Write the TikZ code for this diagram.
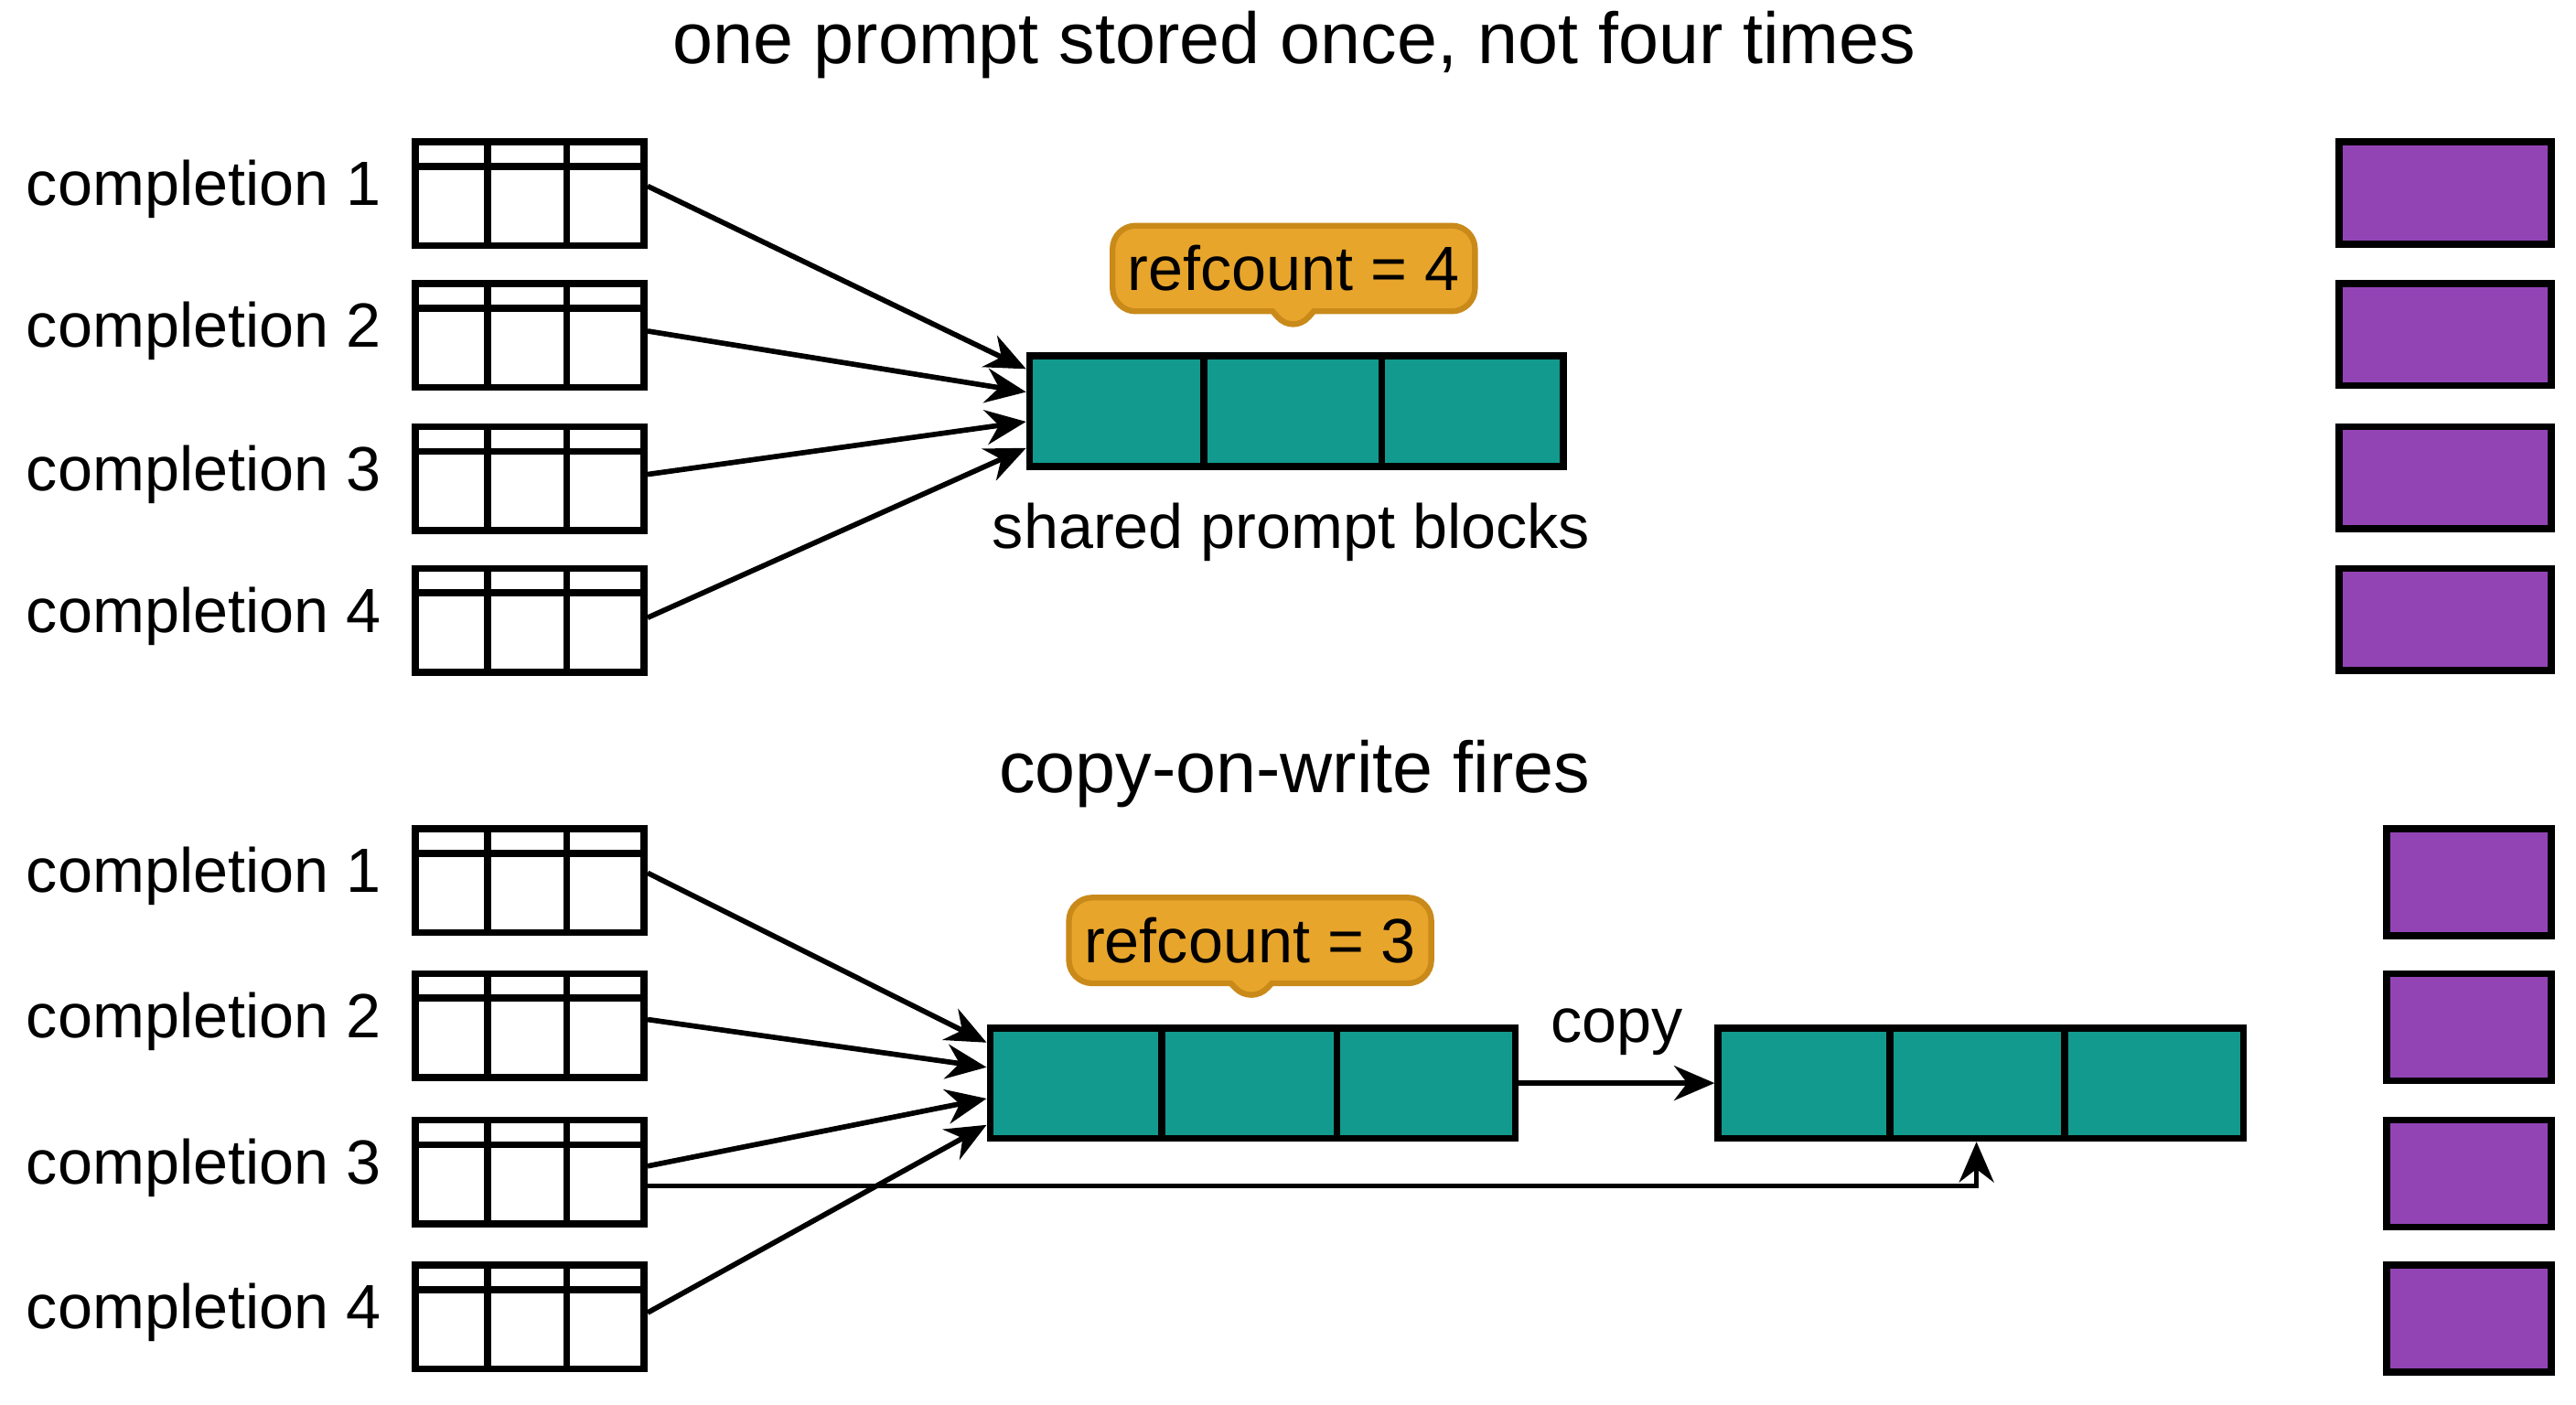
\documentclass[tikz,border=0pt]{standalone}
\usepackage{fontspec}
\setmainfont{Liberation Sans}
\usetikzlibrary{shapes.callouts,arrows.meta}
\definecolor{teal1}{HTML}{129A8E}
\definecolor{orng}{HTML}{E8A52B}
\definecolor{orngd}{HTML}{C98A1A}
\definecolor{purp}{HTML}{9244B5}
\tikzset{
  tbl/.style={draw,line width=1.2pt,minimum width=1.39cm,minimum height=0.63cm,inner sep=0,anchor=north west},
  lbl/.style={font=\fontsize{10.8}{12}\selectfont,anchor=east,inner sep=0},
  ttl/.style={font=\fontsize{12.5}{14}\selectfont},
  blk/.style={draw,fill=teal1,line width=1.2pt,inner sep=0,anchor=north west},
  pbox/.style={draw,fill=purp,line width=1.2pt,inner sep=0,anchor=north west},
  arr/.style={-{Stealth[length=7pt,width=6pt]},line width=0.9pt},
  rc/.style={rectangle callout,fill=orng,draw=orngd,line width=1pt,rounded corners=4pt,font=\fontsize{10.8}{12}\selectfont,minimum width=2.2cm,minimum height=0.52cm,inner sep=2pt},
}
\newcommand{\tabl}[3]{%
  \node[tbl] (#1) at (2.50,#2) {};
  \draw[line width=1.2pt] ([yshift=-0.17cm]#1.north west) -- ([yshift=-0.17cm]#1.north east);
  \draw[line width=1.2pt] ([xshift=0.46cm]#1.north west) -- ([xshift=0.46cm]#1.south west);
  \draw[line width=1.2pt] ([xshift=0.94cm]#1.north west) -- ([xshift=0.94cm]#1.south west);
  \node[lbl] (#1l) at (2.32,#2-0.31) {completion #3};
}
\newcommand{\blkk}[4]{%
  \node[blk,minimum width=#4cm,minimum height=0.67cm] (#1) at (#2,#3) {};
  \draw[line width=1.2pt] ([xshift=#4cm/3]#1.north west) -- ([xshift=#4cm/3]#1.south west);
  \draw[line width=1.2pt] ([xshift=2*#4cm/3]#1.north west) -- ([xshift=2*#4cm/3]#1.south west);
}
\begin{document}
\begin{tikzpicture}
\fill[white] (0,0) rectangle (15.64,-8.53);
\useasboundingbox (0,0) rectangle (15.64,-8.53);
% top
\node[ttl] (t1) at (7.86,-0.27) {one prompt stored once, not four times};
\tabl{a1}{-0.84}{1}
\tabl{a2}{-1.70}{2}
\tabl{a3}{-2.57}{3}
\tabl{a4}{-3.43}{4}
\blkk{s1}{6.23}{-2.14}{3.24}
\node[rc,callout absolute pointer={(7.85,-2.03)}] (r1) at (7.855,-1.63) {refcount = 4};
\node[font=\fontsize{10.8}{12}\selectfont] (sp) at (7.84,-3.23) {shared prompt blocks};
\draw[arr] ([yshift=-0.29cm]a1.north east) -- ([yshift=-0.10cm]s1.north west);
\draw[arr] ([yshift=-0.31cm]a2.north east) -- ([yshift=-0.24cm]s1.north west);
\draw[arr] ([yshift=-0.31cm]a3.north east) -- ([yshift=-0.42cm]s1.north west);
\draw[arr] ([yshift=-0.32cm]a4.north east) -- ([yshift=-0.58cm]s1.north west);
\foreach \i/\y in {1/-0.84,2/-1.70,3/-2.57,4/-3.43}
  \node[pbox,minimum width=1.29cm,minimum height=0.62cm] (p\i) at (14.18,\y) {};
% bottom
\node[ttl] (t2) at (7.86,-4.70) {copy-on-write fires};
\tabl{b1}{-5.01}{1}
\tabl{b2}{-5.89}{2}
\tabl{b3}{-6.78}{3}
\tabl{b4}{-7.66}{4}
\blkk{c1}{5.99}{-6.22}{3.19}
\blkk{c2}{10.41}{-6.22}{3.19}
\node[rc,callout absolute pointer={(7.60,-6.10)}] (r2) at (7.59,-5.71) {refcount = 3};
\draw[arr] (c1.east) -- (c2.west) node[midway,above=1pt,font=\fontsize{10.8}{12}\selectfont] (cp) {copy};
\draw[arr] ([yshift=-0.29cm]b1.north east) -- ([yshift=-0.11cm]c1.north west);
\draw[arr] ([yshift=-0.30cm]b2.north east) -- ([yshift=-0.26cm]c1.north west);
\draw[arr] ([yshift=-0.30cm]b3.north east) -- ([yshift=-0.45cm]c1.north west);
\draw[arr] ([yshift=-0.31cm]b4.north east) -- ([yshift=-0.61cm]c1.north west);
\coordinate (k) at (12.00,-7.20);
\draw[arr] ([yshift=-0.42cm]b3.north east) -- (k) -- (k |- c2.south);
\foreach \i/\y in {1/-5.01,2/-5.89,3/-6.78,4/-7.66}
  \node[pbox,minimum width=1.00cm,minimum height=0.65cm] (q\i) at (14.47,\y) {};
\end{tikzpicture}
\end{document}
